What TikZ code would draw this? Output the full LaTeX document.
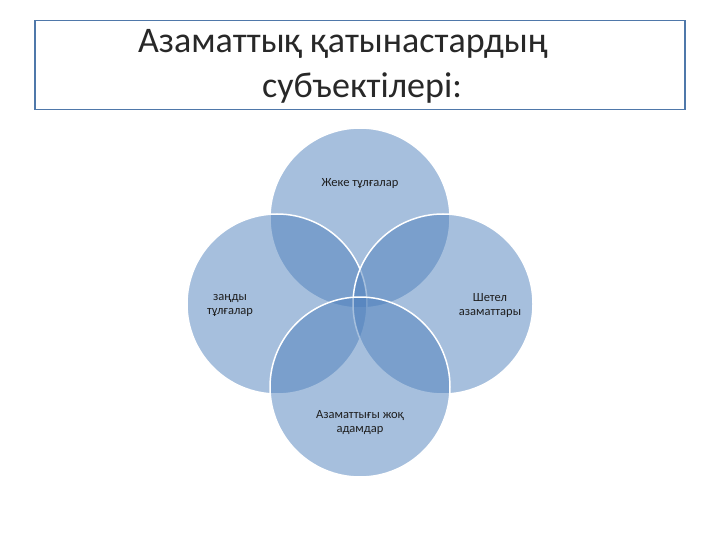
\documentclass[tikz,border=0pt]{standalone}
\usepackage{fontspec}
\setmainfont{Carlito}
\begin{document}
\begin{tikzpicture}[x=1pt,y=-1pt,
  circ/.style={circle,minimum size=180pt,inner sep=0pt,fill={rgb,255:red,79;green,129;blue,189},fill opacity=0.5,draw=white,draw opacity=1,line width=1.5pt},
  lbl/.style={font=\fontsize{12.5}{14}\selectfont,align=center,text={rgb,255:red,30;green,30;blue,30}},
  ttl/.style={font=\fontsize{36}{42}\selectfont,text={rgb,255:red,40;green,40;blue,40}}]
\useasboundingbox[fill=white] (0,0) rectangle (720,540);
\node[draw={rgb,255:red,79;green,120;blue,170},line width=1.8pt,minimum width=650pt,minimum height=89pt,inner sep=0pt] (box) at (360,65) {};
\node[ttl] (title1) at (343,44) {Азаматтық қатынастардың};
\node[ttl] (title2) at (362,88) {субъектілері:};
\node[circ] (t) at (360,218) {};
\node[circ] (l) at (277,304) {};
\node[circ] (r) at (443,304) {};
\node[circ] (b) at (360,387) {};
\node[lbl] (tl) at (360,183) {Жеке тұлғалар};
\node[lbl] (ll) at (230,305) {заңды\\тұлғалар};
\node[lbl] (rl) at (490,305) {Шетел\\азаматтары};
\node[lbl] (bl) at (360,423) {Азаматтығы жоқ\\адамдар};
\end{tikzpicture}
\end{document}
